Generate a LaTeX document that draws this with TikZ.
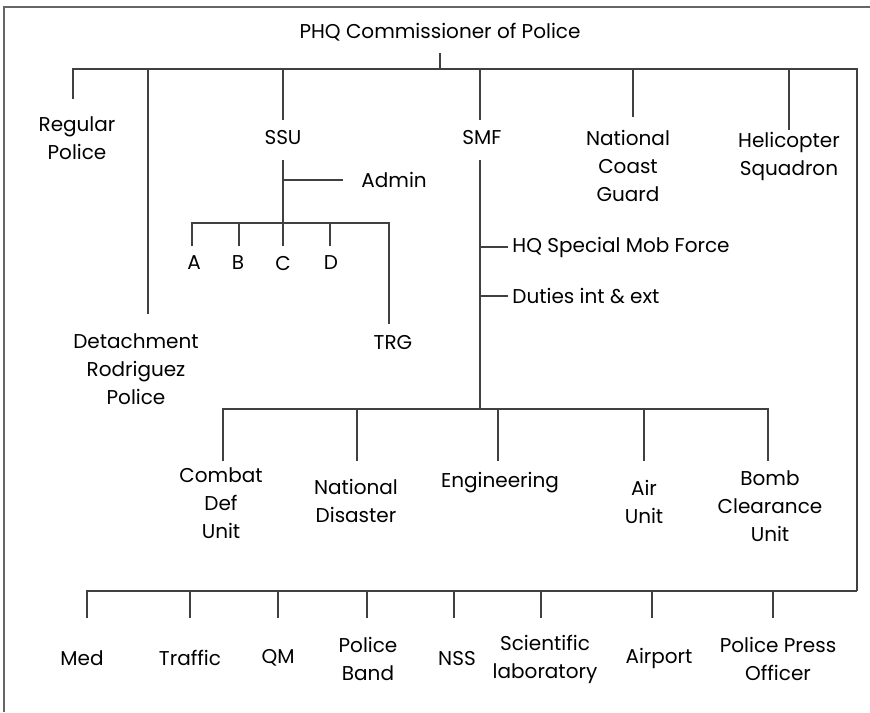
\documentclass[tikz,border=0pt]{standalone}
\usepackage{fontspec}
\setmainfont{Poppins}
\usetikzlibrary{positioning}
\tikzset{
  unit/.style={align=center, inner sep=0pt, font=\fontsize{10}{14}\selectfont},
  branch/.style={draw=black!75, line width=0.6pt},
  frame/.style={draw=black!60, line width=1.1pt}
}
\begin{document}
\begin{tikzpicture}[x=0.5pt,y=-0.5pt]
    \useasboundingbox (0,0) rectangle (870,712);
    %Frame
    \draw[frame] (4,712) -- (4,7) -- (870,7);
    %Head
    \node[unit] (phq) at (440,32) {PHQ Commissioner of Police};
    \coordinate (hub) at (440,69);
    \draw[branch, shorten <=6pt] (phq.south) -- (hub);
    %First level
    \node[unit] (regular) at (77,138) {Regular\\Police};
    \node[unit] (detach) at (136,369) {Detachment\\Rodriguez\\Police};
    \node[unit] (ssu) at (283,138) {SSU};
    \node[unit] (smf) at (482,138) {SMF};
    \node[unit] (coast) at (628,166) {National\\Coast\\Guard};
    \node[unit] (heli) at (789,156) {Helicopter\\Squadron};
    \coordinate (regE) at (73,99);
    \coordinate (detE) at (148,314);
    \coordinate (ssuE) at (283,120);
    \coordinate (smfE) at (480,120);
    \coordinate (coastE) at (633,117);
    \coordinate (heliE) at (789,130);
    \coordinate (rightTop) at (857,69);
    \coordinate (rightBot) at (857,591);
    \draw[branch] (regE) |- (rightTop) -- (rightBot);
    \draw[branch] (detE |- hub) -- (detE);
    \draw[branch] (ssuE |- hub) -- (ssuE);
    \draw[branch] (smfE |- hub) -- (smfE);
    \draw[branch] (coastE |- hub) -- (coastE);
    \draw[branch] (heliE |- hub) -- (heliE);
    %SSU
    \coordinate (ssuS) at (283,160);
    \coordinate (ssuBus) at (283,223);
    \node[unit, anchor=west] (admin) at (361,180) {Admin};
    \draw[branch] (ssuS) -- (ssuBus);
    \draw[branch] (ssuS |- admin) -- ++(60,0);
    \node[unit] (a) at (194,263) {A};
    \node[unit] (b) at (238,263) {B};
    \node[unit] (c) at (283,263) {C};
    \node[unit] (d) at (331,263) {D};
    \node[unit] (trg) at (393,343) {TRG};
    \coordinate (aE) at (192,246);
    \coordinate (bE) at (239,246);
    \coordinate (cE) at (283,246);
    \coordinate (dE) at (330,246);
    \coordinate (trgE) at (389,324);
    \draw[branch] (aE) |- (trgE |- ssuBus) -- (trgE);
    \draw[branch] (bE |- ssuBus) -- (bE);
    \draw[branch] (cE |- ssuBus) -- (cE);
    \draw[branch] (dE |- ssuBus) -- (dE);
    %SMF
    \coordinate (smfS) at (480,160);
    \coordinate (smfBus) at (480,409);
    \node[unit, anchor=west] (hq) at (512,247) {HQ Special Mob Force};
    \node[unit, anchor=west] (duties) at (512,296) {Duties int \& ext};
    \draw[branch] (smfS) -- (smfBus);
    \draw[branch] (smfS |- hq) -- ([xshift=-2pt]hq.west);
    \draw[branch] (smfS |- duties) -- ([xshift=-2pt]duties.west);
    \node[unit] (combat) at (221,503) {Combat\\Def\\Unit};
    \node[unit] (disaster) at (356,501) {National\\Disaster};
    \node[unit] (eng) at (500,483) {Engineering};
    \node[unit] (air) at (644,502) {Air\\Unit};
    \node[unit] (bomb) at (770,506) {Bomb\\Clearance\\Unit};
    \coordinate (combatE) at (223,461);
    \coordinate (disasterE) at (357,461);
    \coordinate (engE) at (498,461);
    \coordinate (airE) at (644,461);
    \coordinate (bombE) at (768,461);
    \draw[branch] (combatE) |- (bombE |- smfBus) -- (bombE);
    \draw[branch] (disasterE |- smfBus) -- (disasterE);
    \draw[branch] (engE |- smfBus) -- (engE);
    \draw[branch] (airE |- smfBus) -- (airE);
    %Bottom row
    \node[unit] (med) at (82,658) {Med};
    \node[unit] (traffic) at (190,658) {Traffic};
    \node[unit] (qm) at (278,658) {QM};
    \node[unit] (band) at (368,659) {Police\\Band};
    \node[unit] (nss) at (457,658) {NSS};
    \node[unit] (lab) at (545,659) {Scientific\\laboratory};
    \node[unit] (airport) at (659,658) {Airport};
    \node[unit] (press) at (778,659) {Police Press\\Officer};
    \coordinate (medE) at (87,618);
    \coordinate (trafficE) at (190,618);
    \coordinate (qmE) at (278,618);
    \coordinate (bandE) at (367,618);
    \coordinate (nssE) at (454,618);
    \coordinate (labE) at (541,618);
    \coordinate (airportE) at (652,618);
    \coordinate (pressE) at (773,618);
    \draw[branch] (rightBot) -| (medE);
    \draw[branch] (trafficE |- rightBot) -- (trafficE);
    \draw[branch] (qmE |- rightBot) -- (qmE);
    \draw[branch] (bandE |- rightBot) -- (bandE);
    \draw[branch] (nssE |- rightBot) -- (nssE);
    \draw[branch] (labE |- rightBot) -- (labE);
    \draw[branch] (airportE |- rightBot) -- (airportE);
    \draw[branch] (pressE |- rightBot) -- (pressE);
\end{tikzpicture}
\end{document}
